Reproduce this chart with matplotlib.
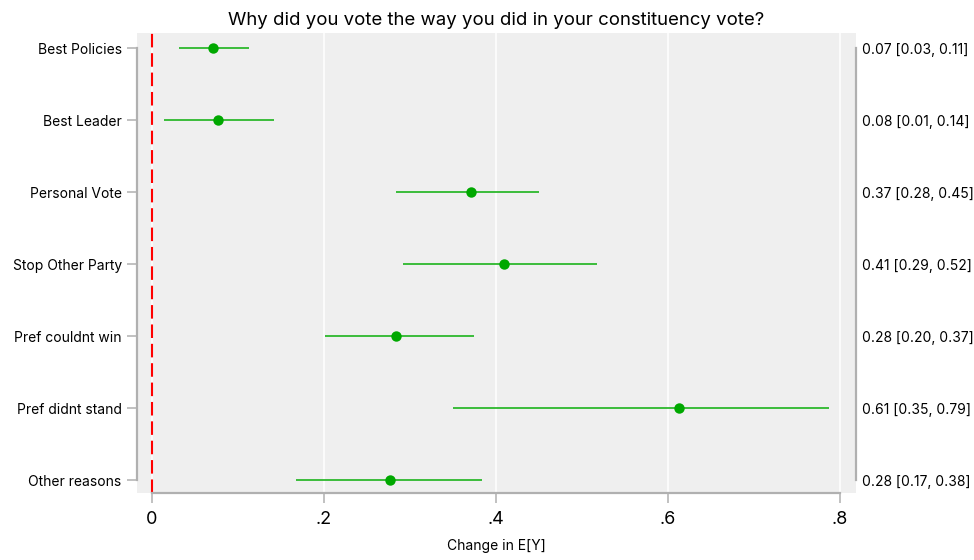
import matplotlib
matplotlib.use("Agg")
import matplotlib.pyplot as plt
import numpy as np

plt.rcParams['font.family'] = ['Inter', 'DejaVu Sans']

categories = ["Best Policies", "Best Leader", "Personal Vote", "Stop Other Party",
              "Pref couldnt win", "Pref didnt stand", "Other reasons"]
estimate = [0.071, 0.077, 0.371, 0.409, 0.284, 0.613, 0.277]
ci_low = [0.031, 0.014, 0.284, 0.292, 0.201, 0.350, 0.168]
ci_high = [0.113, 0.142, 0.450, 0.517, 0.374, 0.787, 0.384]
xticks = [0, 0.2, 0.4, 0.6, 0.8]
xticklabels = ["0", ".2", ".4", ".6", ".8"]

green = "#00a800"
axis_grey = "#b0b0b0"

fig = plt.figure(figsize=(9.74, 5.6), dpi=100)
ax = fig.add_axes([137 / 974, 1 - 493 / 560, (856 - 137) / 974, (493 - 33) / 560])
ax.set_facecolor("#efefef")

y = np.arange(len(categories))
ax.set_xlim(-0.0174, 0.8186)
ax.set_ylim(len(categories) - 1 + 0.18, -0.21)

for xv in xticks:
    ax.axvline(xv, color="white", lw=1.1, zorder=1)

ax.axvline(0, color="#ff0000", lw=1.5, dashes=(6.5, 2.8), zorder=2)

ax.hlines(y, ci_low, ci_high, color="#2db82d", lw=1.3, zorder=3)
ax.plot(estimate, y, "o", color=green, ms=7.5, zorder=4, markeredgewidth=0)

ax.set_yticks(y)
ax.set_yticklabels(categories, fontsize=10)
ax.set_xticks(xticks)
ax.set_xticklabels(xticklabels, fontsize=13)
ax.tick_params(axis="y", length=7, width=1.1, color=axis_grey, pad=4)
ax.tick_params(axis="x", length=7, width=1.1, color=axis_grey, pad=6)

for side in ["top", "right"]:
    ax.spines[side].set_visible(False)
ax.spines["left"].set_bounds(0, len(categories) - 1)
ax.spines["bottom"].set_bounds(0, 0.8)
for side in ["left", "bottom"]:
    ax.spines[side].set_color(axis_grey)
    ax.spines[side].set_linewidth(1.6)

ax.set_xlabel("Change in E[Y]", fontsize=10, labelpad=8)
ax.set_title("Why did you vote the way you did in your constituency vote?",
             fontsize=13.4, pad=6)

# right-hand axis carrying the estimate and its interval
ax2 = ax.twinx()
ax2.set_ylim(ax.get_ylim())
ax2.set_yticks(y)
ax2.set_yticklabels([f"{e:.2f} [{lo:.2f}, {hi:.2f}]"
                     for e, lo, hi in zip(estimate, ci_low, ci_high)], fontsize=10)
ax2.tick_params(axis="y", length=0, pad=4)
for side in ["top", "left", "bottom"]:
    ax2.spines[side].set_visible(False)
ax2.spines["right"].set_bounds(0, len(categories) - 1)
ax2.spines["right"].set_color(axis_grey)
ax2.spines["right"].set_linewidth(1.6)

fig.savefig("out.png", dpi=100, facecolor="white")
